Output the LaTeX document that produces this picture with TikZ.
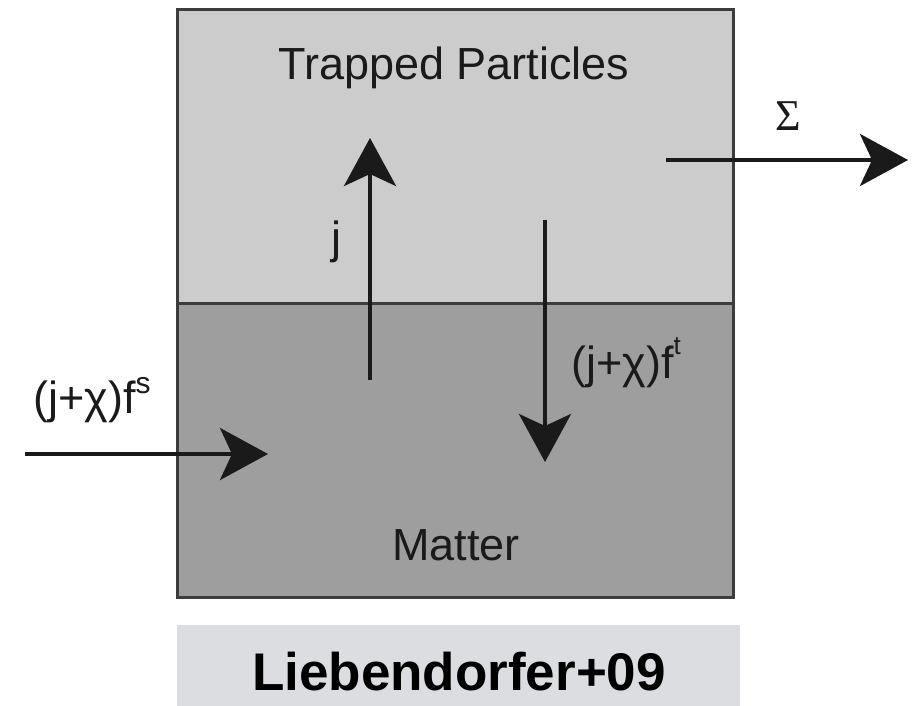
\documentclass[tikz,border=0pt]{standalone}
\usepackage{fontspec}
\setmainfont{Liberation Sans}
\newfontfamily\serifgreek{Liberation Serif}
\usetikzlibrary{arrows.meta}
\definecolor{upperfill}{HTML}{CCCCCC}
\definecolor{lowerfill}{HTML}{9E9E9E}
\definecolor{capfill}{HTML}{DCDDE0}
\definecolor{ink}{HTML}{1A1A1A}
\begin{document}
\begin{tikzpicture}[x=1pt,y=-1pt,
  flow/.style={draw=ink,line width=4pt,-{Stealth[length=48pt,width=52pt,inset=12pt]}},
  lbl/.style={inner sep=0pt,font=\fontsize{45}{50}\selectfont,text=ink},
  region/.style={draw=ink!85,line width=3pt}]
\useasboundingbox (0,0) rectangle (916,706);
% regions
\filldraw[region,fill=upperfill] (177,10) rectangle (733,303);
\filldraw[region,fill=lowerfill] (177,303) rectangle (733,597);
\node[lbl,anchor=base] (tp) at (454,80) {Trapped Particles};
\node[lbl,anchor=base] (matter) at (456,560) {Matter};
% coordinates for connectors
\coordinate (jstart) at (370,380);
\coordinate (jend) at (370,138);
\coordinate (tstart) at (545,220);
\coordinate (tend) at (545,462);
\coordinate (sstart) at (25,454);
\coordinate (send) at (268,454);
\coordinate (Sstart) at (666,160);
\coordinate (Send) at (908,160);
\draw[flow] (jstart) -- (jend);
\draw[flow] (tstart) -- (tend);
\draw[flow] (sstart) -- (send);
\draw[flow] (Sstart) -- (Send);
% labels
\node[lbl,anchor=base] (jl) at (336,253) {j};
\node[lbl,anchor=base west] (ftl) at (571,378) {(j+χ)f\raisebox{24pt}{\fontsize{26}{28}\selectfont t}};
\node[lbl,anchor=base west] (fsl) at (33,413) {(j+χ)f\raisebox{20pt}{\fontsize{30}{32}\selectfont s}};
\node[lbl,anchor=base,font=\serifgreek\fontsize{44}{48}\selectfont] (sig) at (788,131) {Σ};
% caption
\fill[capfill] (177,625) rectangle (740,706);
\node[inner sep=0pt,anchor=base,font=\bfseries\fontsize{53}{58}\selectfont] (cap) at (459,690) {Liebendorfer+09};
\end{tikzpicture}
\end{document}
